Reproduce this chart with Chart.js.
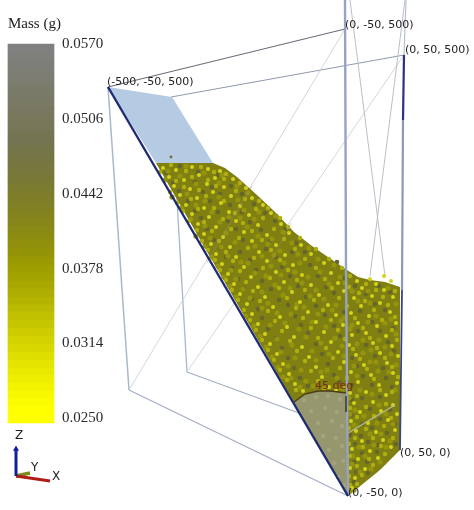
<!DOCTYPE html>
<html><head><meta charset="utf-8">
<script src="https://cdn.jsdelivr.net/npm/chart.js@4"></script>
<style>html,body{margin:0;padding:0;background:#fff}canvas{display:block;filter:blur(.4px)}</style>
</head><body><canvas id="c" width="474" height="510"></canvas>
<script>
const massTicks=["0.0570","0.0506","0.0442","0.0378","0.0314","0.0250"];
const massTickY=[44,119,194,269,343,418];
const colorbarX=31;
const colorbarEdges=[44,52,60,68,76,84,92,99,107,115,123,131,139,147,155,163,170,178,186,194,202,210,218,226,234,241,249,257,265,273,281,289,297,305,312,320,328,336,344,352,360,368,375,383,391,399,407,415,423];
const colorbarColors=["#808080","#7f7f7c","#7e7e78","#7d7d74","#7c7c70","#7b7b6c","#7a7a68","#797964","#787860","#77775c","#767658","#757554","#747450","#75754a","#767644","#77773f","#78783a","#7a7a34","#7c7c2e","#7e7e29","#808024","#83831f","#86861a","#898915","#8c8c10","#90900c","#949408","#999904","#9e9e00","#a3a300","#a8a800","#aeae00","#b4b400","#baba00","#c0c000","#c6c600","#cccc00","#d2d200","#d8d800","#dede00","#e4e400","#e9e900","#eeee00","#f3f300","#f8f800","#fcfc00","#ffff00","#ffff00"];

const vertexA=[108,87],vertexB=[345,29],vertexC=[404,55],vertexD=[171,97];
const vertexE=[348,496],vertexF=[400,450],vertexG=[129,390],vertexH=[187,372];

const plate=[[108,87],[172,97],[213,163],[156,163]];
const pile=[[156,163],[213,163],[225,168],[237,177],[257,195],[275,212],[294,232],[312,246],[325,255],[347,270],[358,277],[370,280],[385,282],[400,287],[400,450],[380,470],[348,496]];
const fan=[[294,402],[305,394],[318,391],[330,391],[347,393],[348,496]];
const fanArc=[[294,402],[305,394],[318,391],[330,391],[347,393]];

const brightSpeckles=[[163,168],[176,170],[192,167],[208,169],[220,171],[169,177],[184,180],[199,175],[215,178],[233,179],[174,186],[190,189],[207,184],[224,187],[246,188],[180,195],[197,198],[213,192],[231,196],[252,198],[186,205],[204,208],[221,203],[240,206],[263,205],[192,214],[209,217],[229,212],[249,215],[271,213],[198,224],[216,227],[236,221],[258,225],[281,224],[204,234],[223,237],[244,232],[267,235],[289,233],[211,244],[230,247],[252,241],[276,245],[301,245],[216,254],[236,257],[259,252],[285,255],[311,254],[222,264],[244,267],[267,261],[293,265],[324,263],[228,274],[251,277],[276,272],[302,275],[331,273],[357,281],[370,279],[384,276],[391,281],[376,284],[234,284],[258,287],[284,282],[311,285],[338,283],[362,288],[384,290],[240,294],[265,297],[292,292],[319,295],[344,291],[354,298],[372,296],[393,297],[247,304],[273,307],[300,302],[328,305],[361,306],[380,303],[252,314],[280,317],[308,312],[336,315],[351,313],[369,316],[390,312],[258,324],[287,327],[316,322],[343,325],[358,323],[377,326],[396,323],[265,334],[294,337],[324,332],[352,335],[366,333],[386,336],[270,344],[302,347],[331,342],[349,345],[373,343],[392,346],[277,354],[309,357],[338,352],[356,355],[380,353],[398,356],[283,364],[316,367],[344,362],[364,365],[387,363],[289,374],[322,377],[351,372],[371,375],[393,373],[295,384],[329,387],[358,382],[379,385],[397,383],[303,391],[336,390],[350,393],[366,392],[386,395],[354,403],[373,402],[393,405],[360,412],[381,411],[397,414],[351,421],[368,423],[388,420],[356,431],[376,432],[395,430],[362,441],[383,440],[352,449],[370,451],[391,447],[358,459],[378,458],[350,468],[365,469],[355,478],[352,488]];
const midSpeckles=[[160,172],[171,165],[186,171],[201,167],[214,172],[226,174],[176,181],[192,177],[208,180],[224,179],[240,183],[170,192],[184,187],[199,190],[216,186],[236,191],[177,203],[191,199],[206,196],[224,201],[245,199],[259,201],[183,211],[198,209],[214,208],[235,213],[256,209],[268,208],[189,221],[204,222],[223,219],[243,223],[263,218],[280,218],[197,230],[212,231],[231,229],[252,231],[274,229],[288,227],[202,241],[219,241],[239,238],[262,240],[284,239],[300,238],[208,250],[226,252],[248,248],[271,250],[295,249],[316,249],[215,260],[233,261],[254,258],[280,260],[305,259],[329,259],[220,270],[240,271],[263,268],[288,270],[316,268],[342,268],[226,280],[246,282],[270,278],[297,280],[325,279],[350,276],[366,284],[232,290],[253,291],[279,288],[305,290],[332,288],[349,287],[376,290],[395,291],[238,300],[260,301],[287,298],[314,300],[339,298],[359,293],[383,297],[244,310],[268,311],[296,308],[323,310],[347,306],[365,301],[388,305],[250,320],[275,321],[303,318],[331,320],[355,318],[374,310],[395,317],[256,330],[282,331],[311,328],[338,330],[363,328],[382,320],[262,340],[290,341],[318,338],[345,339],[370,338],[392,330],[268,350],[297,351],[326,348],[353,349],[377,348],[397,340],[274,360],[305,361],[333,358],[360,359],[385,358],[280,370],[311,371],[340,368],[367,369],[392,367],[287,380],[318,381],[347,378],[374,379],[398,377],[296,390],[324,389],[345,387],[380,390],[357,396],[392,392],[366,407],[386,404],[350,408],[374,416],[391,418],[357,417],[349,428],[366,429],[384,426],[355,438],[373,438],[393,438],[349,444],[363,447],[381,446],[350,456],[369,459],[385,454],[357,466],[373,465],[349,476],[362,475],[350,485],[357,484],[349,492]];
const oliveSpeckles=[[168,171],[186,166],[204,173],[222,175],[165,180],[180,176],[196,184],[219,183],[237,186],[172,197],[187,194],[205,201],[219,197],[238,200],[248,193],[181,208],[196,205],[212,212],[229,217],[244,210],[259,212],[191,219],[205,226],[220,222],[240,218],[254,219],[276,216],[196,236],[210,238],[226,233],[247,227],[258,236],[272,239],[283,232],[205,246],[221,247],[235,242],[255,246],[268,244],[280,251],[292,243],[212,257],[228,256],[241,262],[262,256],[274,255],[298,254],[309,248],[218,266],[231,270],[248,263],[271,266],[284,263],[300,263],[318,259],[334,265],[224,277],[236,279],[255,273],[266,276],[281,275],[295,272],[308,277],[320,272],[340,277],[230,286],[243,289],[262,292],[275,285],[290,288],[302,283],[316,290],[329,284],[345,283],[368,291],[388,288],[236,297],[250,298],[268,303],[283,295],[297,304],[310,296],[324,299],[336,305],[352,291],[370,303],[396,304],[246,316],[262,308],[277,313],[291,314],[304,307],[318,314],[332,310],[344,318],[358,301],[376,316],[385,323],[254,326],[270,325],[285,323],[299,329],[312,322],[326,327],[341,321],[352,325],[368,322],[391,319],[260,336],[277,339],[292,345],[306,337],[321,343],[335,338],[350,329],[363,340],[379,340],[396,334],[266,347],[281,352],[295,358],[312,351],[329,354],[342,346],[357,344],[371,350],[385,347],[272,357],[288,366],[301,370],[316,360],[327,370],[344,356],[363,353],[376,362],[391,354],[278,367],[291,378],[306,381],[321,372],[337,378],[354,366],[370,362],[396,365],[283,377],[313,386],[342,390],[357,376],[378,371],[389,372],[300,387],[349,398],[372,394],[395,390],[360,390],[379,405],[355,410],[386,414],[364,416],[350,414],[393,424],[377,423],[354,425],[370,434],[381,434],[390,441],[359,447],[374,445],[353,456],[386,447],[365,456],[380,462],[352,464],[360,472],[371,469],[348,480],[354,490]];
const darkSpeckles=[[166,173],[180,166],[198,172],[218,175],[173,183],[195,182],[212,187],[231,186],[179,191],[203,192],[220,194],[242,194],[188,201],[210,201],[230,205],[254,204],[195,211],[218,212],[242,212],[265,213],[201,218],[228,221],[250,222],[275,221],[207,229],[236,229],[261,230],[285,229],[214,240],[243,240],[270,241],[296,243],[220,248],[240,252],[266,249],[292,252],[226,257],[250,260],[276,257],[305,252],[232,268],[256,270],[282,267],[310,265],[337,262],[238,279],[262,281],[290,276],[318,276],[345,278],[244,288],[271,289],[298,286],[326,287],[355,286],[379,286],[252,299],[279,300],[306,297],[334,293],[366,294],[390,292],[258,309],[288,305],[316,306],[344,312],[375,304],[262,318],[295,316],[325,315],[360,311],[385,310],[268,329],[301,325],[334,326],[372,322],[393,328],[276,338],[308,333],[340,336],[358,331],[380,331],[282,348],[316,344],[347,344],[366,345],[388,342],[288,358],[322,354],[352,358],[375,356],[394,351],[294,368],[328,364],[357,366],[383,368],[300,378],[334,375],[363,376],[386,378],[308,386],[340,382],[352,385],[372,385],[392,387],[362,398],[380,397],[352,400],[370,409],[390,410],[352,415],[380,419],[362,424],[395,424],[372,428],[350,435],[387,433],[361,436],[378,445],[355,444],[368,442],[396,444],[362,453],[377,452],[354,462],[367,462],[356,472],[368,473],[354,482]];
const fanSpeckles=[[304,400],[316,397],[328,396],[340,399],[311,411],[325,408],[337,412],[318,423],[332,421],[342,426],[323,436],[336,438],[329,450],[342,446],[334,463],[343,461],[338,477],[344,485]];
const strayGrains=[[171,157]];

const lines=[
 {pts:[vertexA,vertexG],c:"#aab8cc",w:1.5},
 {pts:[vertexD,vertexH],c:"#aab8cc",w:1.3},
 {pts:[vertexG,vertexE],c:"#a3afc3",w:1.3},
 {pts:[vertexH,vertexF],c:"#a3afc3",w:1.2},
 {pts:[vertexA,vertexB],c:"#6d6f7c",w:1.1},
 {pts:[vertexD,vertexC],c:"#8f98ad",w:1},
 {pts:[vertexG,vertexB],c:"#c8cdd6",w:.8},
 {pts:[vertexH,vertexC],c:"#c8cdd6",w:.8},
 {pts:[[350,0],[385,276]],c:"#b9bfc9",w:1},
 {pts:[[405,0],[370,276]],c:"#b9bfc9",w:1}
];
const overLines=[
 {pts:[[252,186],[207,262]],c:"rgba(150,150,115,.55)",w:1},
 {pts:[[291,223],[270,262]],c:"rgba(150,150,115,.4)",w:1},
 {pts:[[348,433],[395,405]],c:"#b9bc94",w:1.3},
 {pts:[[345,0],[346,270],[348,496]],c:"#97a3c2",w:2.4},
 {pts:[[406,0],[404,55]],c:"#b8c0d2",w:1.2},
 {pts:[vertexC,[403,120]],c:"#2a3478",w:2.2},
 {pts:[[403,120],[402,290]],c:"#8d97bc",w:2.2},
 {pts:[[402,290],vertexF],c:"#3a4585",w:1.8},
 {pts:[[346,396],[346,412]],c:"#403c30",w:1.6},
 {pts:[vertexA,vertexE],c:"#1e2a72",w:2.4}
];
const triadZ=[[16,476],[16,449]],triadX=[[16,476],[50,481]],triadY=[[16,476],[30,473]];

const texts=[
 {t:"Mass (g)",x:8,y:24,f:"15px 'Liberation Serif'",c:"#222"},
 {t:"(-500, -50, 500)",x:107,y:82,f:"11px 'DejaVu Sans'",c:"#222"},
 {t:"(0, -50, 500)",x:345,y:25,f:"11px 'DejaVu Sans'",c:"#222"},
 {t:"(0, 50, 500)",x:405,y:50,f:"11px 'DejaVu Sans'",c:"#222"},
 {t:"(0, 50, 0)",x:400,y:453,f:"11px 'DejaVu Sans'",c:"#222"},
 {t:"(0, -50, 0)",x:348,y:493,f:"11px 'DejaVu Sans'",c:"#222"},
 {t:"45 deg",x:315,y:386,f:"11px 'DejaVu Sans'",c:"#7a2c12"},
 {t:"Z",x:15,y:436,f:"12px 'DejaVu Sans'",c:"#222"},
 {t:"Y",x:31,y:468,f:"12px 'DejaVu Sans'",c:"#222"},
 {t:"X",x:52,y:477,f:"12px 'DejaVu Sans'",c:"#222"}
];

const xy=p=>({x:p[0],y:p[1]});
const poly=(pts,color)=>({type:"scatter",data:pts.map(xy),showLine:true,fill:"shape",backgroundColor:color,borderColor:color,borderWidth:0,pointRadius:0});
const seg=l=>({type:"scatter",data:l.pts.map(xy),showLine:true,fill:false,borderColor:l.c,borderWidth:l.w,pointRadius:0});
const dots=(pts,color,r)=>({type:"scatter",data:pts.map(xy),showLine:false,backgroundColor:color,pointBackgroundColor:color,pointBorderWidth:0,pointRadius:r});

const colorbar={type:"bar",data:colorbarColors.map((_,i)=>({x:colorbarX,y:[colorbarEdges[i],colorbarEdges[i+1]]})),barThickness:46,backgroundColor:colorbarColors,borderWidth:0};

const layers=[
 ...lines.map(seg),
 poly(plate,"#b4cbe3"),
 poly(pile,"#7f7f12"),
 dots(darkSpeckles,"#66662a",2.3),
 dots(oliveSpeckles,"#94940e",2.6),
 dots(midSpeckles,"#afaf10",2.2),
 dots(brightSpeckles,"#d4d41c",2),
 dots(strayGrains,"#7a6a3a",1.4),
 poly(fan,"#97976f"),
 dots(fanSpeckles,"#a3a37c",2.2),
 {type:"scatter",data:fanArc.map(xy),showLine:true,fill:false,borderColor:"#4a3a14",borderWidth:1.3,pointRadius:0},
 ...overLines.map(seg),
 seg({pts:triadY,c:"#7c8a1e",w:3.5}),
 seg({pts:triadX,c:"#b01c14",w:3}),
 seg({pts:triadZ,c:"#10209a",w:3}),
 {type:"scatter",data:[xy(triadZ[1])],pointStyle:"triangle",pointRadius:3.5,pointBackgroundColor:"#10209a",pointBorderWidth:0},
 colorbar
];
layers.forEach((d,i)=>d.order=layers.length-i);

const textPlugin={id:"labels",afterDraw(ch){
  const {ctx,scales:{x,y}}=ch; ctx.save(); ctx.textBaseline="middle"; ctx.textAlign="left";
  texts.forEach(a=>{ctx.font=a.f;ctx.fillStyle=a.c;ctx.fillText(a.t,x.getPixelForValue(a.x),y.getPixelForValue(a.y));});
  ctx.font="15px 'Liberation Serif'";ctx.fillStyle="#2a2a2a";
  massTicks.forEach((t,i)=>ctx.fillText(t,x.getPixelForValue(62),y.getPixelForValue(massTickY[i])));
  ctx.restore();
}};

new Chart(document.getElementById("c"),{
 data:{datasets:layers},
 plugins:[textPlugin],
 options:{responsive:false,devicePixelRatio:1,animation:false,layout:{padding:0,autoPadding:false},
  plugins:{legend:{display:false},tooltip:{enabled:false},title:{display:false}},
  scales:{x:{type:"linear",display:false,min:0,max:474,offset:false},y:{type:"linear",display:false,min:0,max:510,reverse:true}}}
});
</script></body></html>
